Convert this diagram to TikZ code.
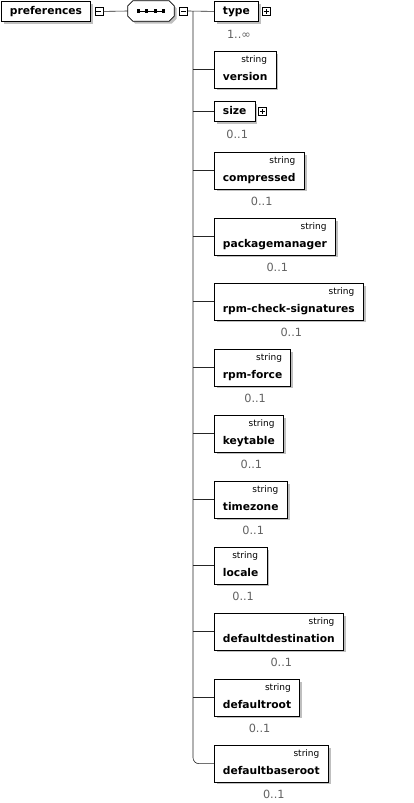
\documentclass[tikz,border=0pt]{standalone}
\usepackage{fontspec}
\setmainfont{DejaVu Sans}
\usetikzlibrary{positioning,shadows}
\tikzset{elem/.style = {draw, fill=white, line width=0.8pt, anchor=north west, inner xsep=8.5pt,
    font=\bfseries\fontsize{10.7}{12}\selectfont,
    drop shadow={shadow xshift=2.5pt, shadow yshift=-2.5pt, fill=black!25, opacity=1}}}
\tikzset{plain/.style = {elem, inner ysep=0pt, text height=8.5pt, text depth=2pt, minimum height=20pt}}
\tikzset{typed/.style = {elem, inner ysep=3pt, text height=26.5pt, text depth=4pt, label={[strlbl]north east:string}}}
\tikzset{strlbl/.style = {anchor=north east, inner sep=0pt, xshift=-9pt, yshift=-4.5pt, font=\fontsize{9}{10}\selectfont}}
\tikzset{card/.style = {inner sep=0pt, label distance=8pt, xshift=2.5pt, text=black!62, font=\fontsize{11.3}{12}\selectfont}}
\tikzset{pmbox/.style = {draw, fill=white, line width=0.6pt, minimum size=8pt, inner sep=0pt}}
\tikzset{minus/.style = {pmbox, path picture={\draw[line width=0.6pt] ([xshift=1.6pt]path picture bounding box.west) -- ([xshift=-1.6pt]path picture bounding box.east);}}}
\tikzset{plus/.style = {pmbox, path picture={\draw[line width=0.6pt] ([xshift=1.6pt]path picture bounding box.west) -- ([xshift=-1.6pt]path picture bounding box.east)
    ([yshift=1.6pt]path picture bounding box.south) -- ([yshift=-1.6pt]path picture bounding box.north);}}}
\tikzset{seqbox/.style = {minimum width=46pt, minimum height=20pt, inner sep=0pt}}
\tikzset{conn/.style = {line width=0.6pt, draw=black!85}}

\begin{document}
\begin{tikzpicture}[x=1pt, y=-1pt]
  \useasboundingbox (0,0) rectangle (414,803);
  \node [plain] (preferences) at (1,1) {preferences};
  \node [minus, right=3.5pt of preferences] (premin) {};
  \node [seqbox] (seq) at (151,11) {};
  \node [minus, right=5pt of seq] (seqmin) {};
  % sequence octagon
  \draw [line width=0.8pt, fill=white, drop shadow={shadow xshift=2.5pt, shadow yshift=-2.5pt, fill=black!25, opacity=1}]
    ([xshift=5pt]seq.north west) -- ([xshift=-5pt]seq.north east) -- ([yshift=-5pt]seq.north east)
    -- ([yshift=5pt]seq.south east) -- ([xshift=-5pt]seq.south east) -- ([xshift=5pt]seq.south west)
    -- ([yshift=5pt]seq.south west) -- ([yshift=-5pt]seq.north west) -- cycle;
  \draw [line width=0.8pt] ([xshift=-13pt]seq.center) -- ([xshift=13pt]seq.center);
  \foreach \k in {0,...,3} {
    \fill ([xshift={(\k-1.5)*8.5pt}]seq.center) +(-1.6,-1.6) rectangle +(1.6,1.6);
  }
  % child elements
  \node [plain, label={[card]below:1..∞}] (type) at (214,1) {type};
  \node [plus, right=3pt of type] (typeplus) {};
  \node [typed] (version) at (214,51) {version};
  \node [plain, label={[card]below:0..1}] (size) at (214,101) {size};
  \node [plus, right=3pt of size] (sizeplus) {};
  \foreach \n/\t in {compressed/152, packagemanager/218, rpm-check-signatures/283, rpm-force/349,
      keytable/415, timezone/481, locale/547, defaultdestination/613, defaultroot/679, defaultbaseroot/745} {
    \node [typed, label={[card]below:0..1}] (\n) at (214,\t) {\n};
  }
  % connectors
  \coordinate (trunk) at (193,11);
  \draw [conn] (premin.east) -- (seq.west);
  \draw [conn] (seqmin.east) -- (type.west);
  \draw [conn, rounded corners=6pt] (trunk) |- (defaultbaseroot.west);
  \foreach \n in {version, size, compressed, packagemanager, rpm-check-signatures, rpm-force,
      keytable, timezone, locale, defaultdestination, defaultroot} {
    \draw [conn] (\n.west) -- (\n.west -| trunk);
  }
\end{tikzpicture}
\end{document}
